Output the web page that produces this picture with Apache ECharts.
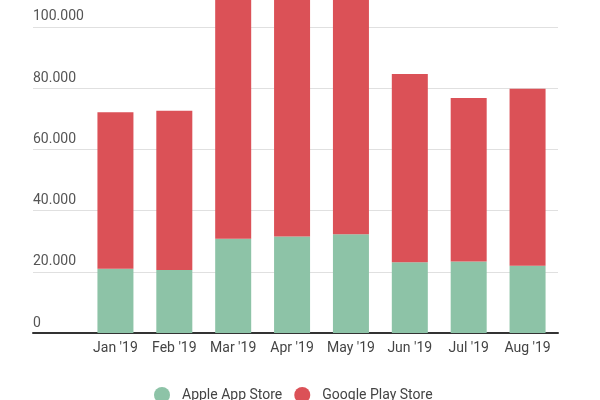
<!DOCTYPE html>
<html>
<head>
<meta charset="utf-8">
<script src="https://cdn.jsdelivr.net/npm/echarts@6/dist/echarts.min.js"></script>
<style>
  html, body { margin: 0; padding: 0; background: #fff; }
  #grafico { width: 600px; height: 400px; }
</style>
</head>
<body>
<div id="grafico"></div>
<script>
// datos
var meses = ["Jan '19", "Feb '19", "Mar '19", "Apr '19", "May '19", "Jun '19", "Jul '19", "Aug '19"];
var apple = [21000, 20600, 30800, 31500, 32300, 23100, 23400, 22000];
var google = [51100, 52000, 95000, 90000, 88000, 61500, 53400, 57800];
var yMax = 108800;

var chartDom = document.getElementById('grafico');
var myChart = echarts.init(chartDom);

var option = {
    textStyle: { fontFamily: 'Roboto' },
    animation: false,
    legend: {
        left: 149,
        top: 382,
        icon: 'circle',
        itemWidth: 16,
        itemHeight: 16,
        itemGap: 12,
        textStyle: { fontSize: 14, color: '#444', padding: [0, 0, 0, 7] }
    },
    grid: [
        { left: 33, right: 42, top: 0, bottom: 67 },
        { left: 86, right: 43, top: 0, bottom: 67 }
    ],
    xAxis: [
        {
            gridIndex: 0,
            type: 'value',
            min: 0,
            max: 1,
            axisLine: { show: true, lineStyle: { color: '#333', width: 2 } },
            axisTick: { show: false },
            axisLabel: { show: false },
            splitLine: { show: false }
        },
        {
            gridIndex: 1,
            type: 'category',
            data: meses,
            axisLine: { show: false },
            axisTick: { show: false },
            axisLabel: { interval: 0, fontSize: 14, color: '#444', margin: 8 }
        }
    ],
    yAxis: [
        {
            gridIndex: 0,
            type: 'value',
            min: 0,
            max: yMax,
            interval: 20000,
            axisLine: { show: false },
            axisTick: { show: false },
            axisLabel: {
                inside: true,
                margin: 0,
                verticalAlign: 'bottom',
                padding: [0, 0, 3, 0],
                fontSize: 14,
                color: '#555',
                formatter: function (v) {
                    if (v % 20000 !== 0) return '';
                    return v === 0 ? '0' : (v / 1000) + '.000';
                }
            },
            splitLine: { showMaxLine: false, lineStyle: { color: '#e0e0e0' } }
        },
        {
            gridIndex: 1,
            type: 'value',
            min: 0,
            max: yMax,
            show: false
        }
    ],
    series: [
        {
            name: 'Apple App Store',
            type: 'bar',
            stack: 'total',
            xAxisIndex: 1,
            yAxisIndex: 1,
            barWidth: 36,
            itemStyle: { color: '#8dc3a7' },
            data: apple
        },
        {
            name: 'Google Play Store',
            type: 'bar',
            stack: 'total',
            xAxisIndex: 1,
            yAxisIndex: 1,
            barWidth: 36,
            itemStyle: { color: '#db5157' },
            data: google
        }
    ]
};

myChart.setOption(option);
</script>
</body>
</html>
